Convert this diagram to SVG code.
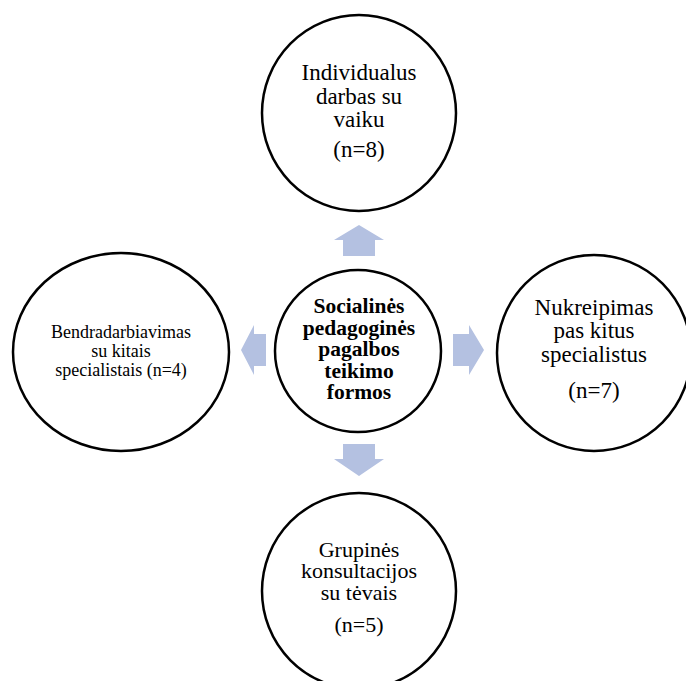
<svg xmlns="http://www.w3.org/2000/svg" width="686" height="681" viewBox="0 0 686 681">
<style>
.node{fill:#ffffff;stroke:#000000;stroke-width:2.5}
.t{font-family:"Liberation Serif","Times New Roman",serif;fill:#000000;text-anchor:middle}
.b{font-weight:bold}
.arr{fill:#b4c1e1;stroke:none}
</style>
<rect width="686" height="681" fill="#ffffff"/>
<g id="connectors">
<polygon class="arr" points="359,225 384,240 375,240 375,256 343,256 343,240 334,240"/>
<polygon class="arr" points="343,444 375,444 375,459 384,459 359,476 334,459 343,459"/>
<polygon class="arr" points="241,350 254,325 254,334 266,334 266,366 254,366 254,375"/>
<polygon class="arr" points="484,350 469,325 469,334 453,334 453,366 469,366 469,375"/>
</g>
<g id="node-top">
<ellipse class="node" cx="359" cy="113" rx="97" ry="98"/>
<text class="t" font-size="23"><tspan x="359" y="80">Individualus</tspan><tspan x="359" y="104">darbas su</tspan><tspan x="359" y="127">vaiku</tspan><tspan x="359" y="157">(n=8)</tspan></text>
</g>
<g id="node-center">
<ellipse class="node" cx="358" cy="351" rx="83" ry="81"/>
<text class="t b" font-size="21.5"><tspan x="359" y="313">Socialinės</tspan><tspan x="359" y="334.5">pedagoginės</tspan><tspan x="359" y="356">pagalbos</tspan><tspan x="359" y="377.5">teikimo</tspan><tspan x="359" y="399">formos</tspan></text>
</g>
<g id="node-left">
<ellipse class="node" cx="121" cy="352" rx="108" ry="99"/>
<text class="t" font-size="18"><tspan x="121" y="338">Bendradarbiavimas</tspan><tspan x="121" y="357">su kitais</tspan><tspan x="121" y="376">specialistais (n=4)</tspan></text>
</g>
<g id="node-right">
<ellipse class="node" cx="594" cy="353" rx="97" ry="98"/>
<text class="t" font-size="23"><tspan x="594" y="315">Nukreipimas</tspan><tspan x="594" y="338">pas kitus</tspan><tspan x="594" y="362">specialistus</tspan><tspan x="594" y="398">(n=7)</tspan></text>
</g>
<g id="node-bottom">
<ellipse class="node" cx="359" cy="591" rx="97" ry="98"/>
<text class="t" font-size="22"><tspan x="359" y="557">Grupinės</tspan><tspan x="359" y="578">konsultacijos</tspan><tspan x="359" y="600">su tėvais</tspan><tspan x="359" y="632">(n=5)</tspan></text>
</g>
</svg>
